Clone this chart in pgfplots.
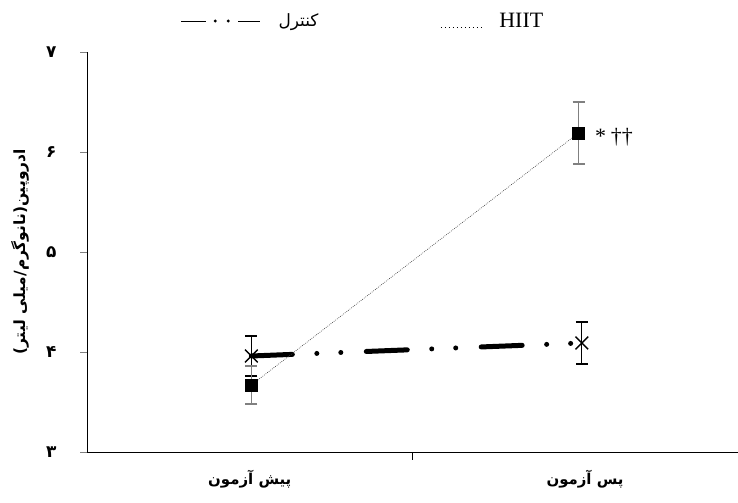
\documentclass[border=0pt]{standalone}
\usepackage{fontspec}
\usepackage{pgfplots}
\pgfplotsset{compat=1.18}
\setmainfont{Liberation Serif}
\newfontfamily\arabicfont[Script=Arabic]{DejaVu Sans}
\TeXXeTstate=1
\begin{document}
\begin{tikzpicture}[x=1bp,y=1bp]
\useasboundingbox (0,0) rectangle (738,503);
\begin{axis}[
  at={(87bp,51bp)}, anchor=south west,
  scale only axis, width=651bp, height=400bp,
  xmin=0, xmax=2, ymin=3, ymax=7,
  axis lines=left, axis line style={-, line width=0.8pt},
  tick align=outside, major tick length=7bp, minor tick length=8bp,
  ytick={3,4,5,6,7},
  yticklabels={۳,۴,۵,۶,۷},
  yticklabel style={font=\arabicfont\bfseries\fontsize{17}{17}\selectfont, xshift=-20bp},
  xtick={0.5,1.53},
  xticklabels={{\beginR پیش آزمون\endR},{\beginR پس آزمون\endR}},
  xticklabel style={font=\arabicfont\bfseries\fontsize{15}{15}\selectfont, yshift=-8bp},
  major x tick style={draw=none},
  minor xtick={1}, minor x tick style={draw=black, line width=0.6pt},
  ytick style={line width=0.6pt},
  ylabel={\beginR ادروپین(نانوگرم/میلی لیتر)\endR},
  ylabel style={font=\arabicfont\bfseries\fontsize{15.5}{15.5}\selectfont, at={(axis description cs:-0.103,0.5)}, anchor=center},
  legend style={at={(axis description cs:0.424,1.0775)}, anchor=center, draw=none, fill=none,
    legend columns=2, font=\fontsize{22}{22}\selectfont,
    /tikz/every even column/.append style={column sep=120bp}},
  clip=false,
]
\addplot[black, line width=5bp, line cap=round,
  dash pattern=on 41bp off 24.5bp on 0bp off 24bp on 0bp off 25.5bp,
  mark=x, mark size=9bp, mark options={solid, line width=1.4pt, line cap=butt},
  legend image code/.code={
    \draw[solid, line width=0.7pt, line cap=butt] (0bp,0bp)--(25bp,0bp);
    \path[fill=black, draw=none] (34bp,0bp) circle [radius=1.6bp];
    \path[fill=black, draw=none] (47bp,0bp) circle [radius=1.6bp];
    \draw[solid, line width=0.7pt, line cap=butt] (57bp,0bp)--(79bp,0bp);},
  error bars/.cd, y dir=both, y explicit,
  error bar style={black, line width=1.2pt, solid, line cap=butt},
  error mark options={rotate=90, mark size=6bp, black, line width=1.2pt, solid},
  ] coordinates {(0.505,3.96) +- (0,0.2) (1.52,4.09) +- (0,0.21)};
\addlegendentry{\hspace{16bp}\arabicfont\fontsize{17}{17}\selectfont\beginR کنترل\endR}
\addplot[darkgray, line width=0.6pt, dash pattern=on 0.8bp off 1.2bp,
  mark=square*, mark size=6bp, mark options={solid, fill=black, draw=black},
  legend image code/.code={
    \draw[black, line width=0.9pt, dash pattern=on 0.9bp off 3.1bp] (0bp,-6bp)--(42bp,-6bp);},
  error bars/.cd, y dir=both, y explicit,
  error bar style={gray, line width=1.2pt, solid},
  error mark options={rotate=90, mark size=6bp, gray, line width=1.2pt, solid},
  ] coordinates {(0.505,3.67) +- (0,0.19) (1.51,6.19) +- (0,0.31)};
\addlegendentry{\hspace{14bp}HIIT}
\node[anchor=west, font=\fontsize{22}{22}\selectfont] at (axis cs:1.51,6.15) {\hspace{13bp}*\hspace{5bp}††};
\end{axis}
\end{tikzpicture}
\end{document}
